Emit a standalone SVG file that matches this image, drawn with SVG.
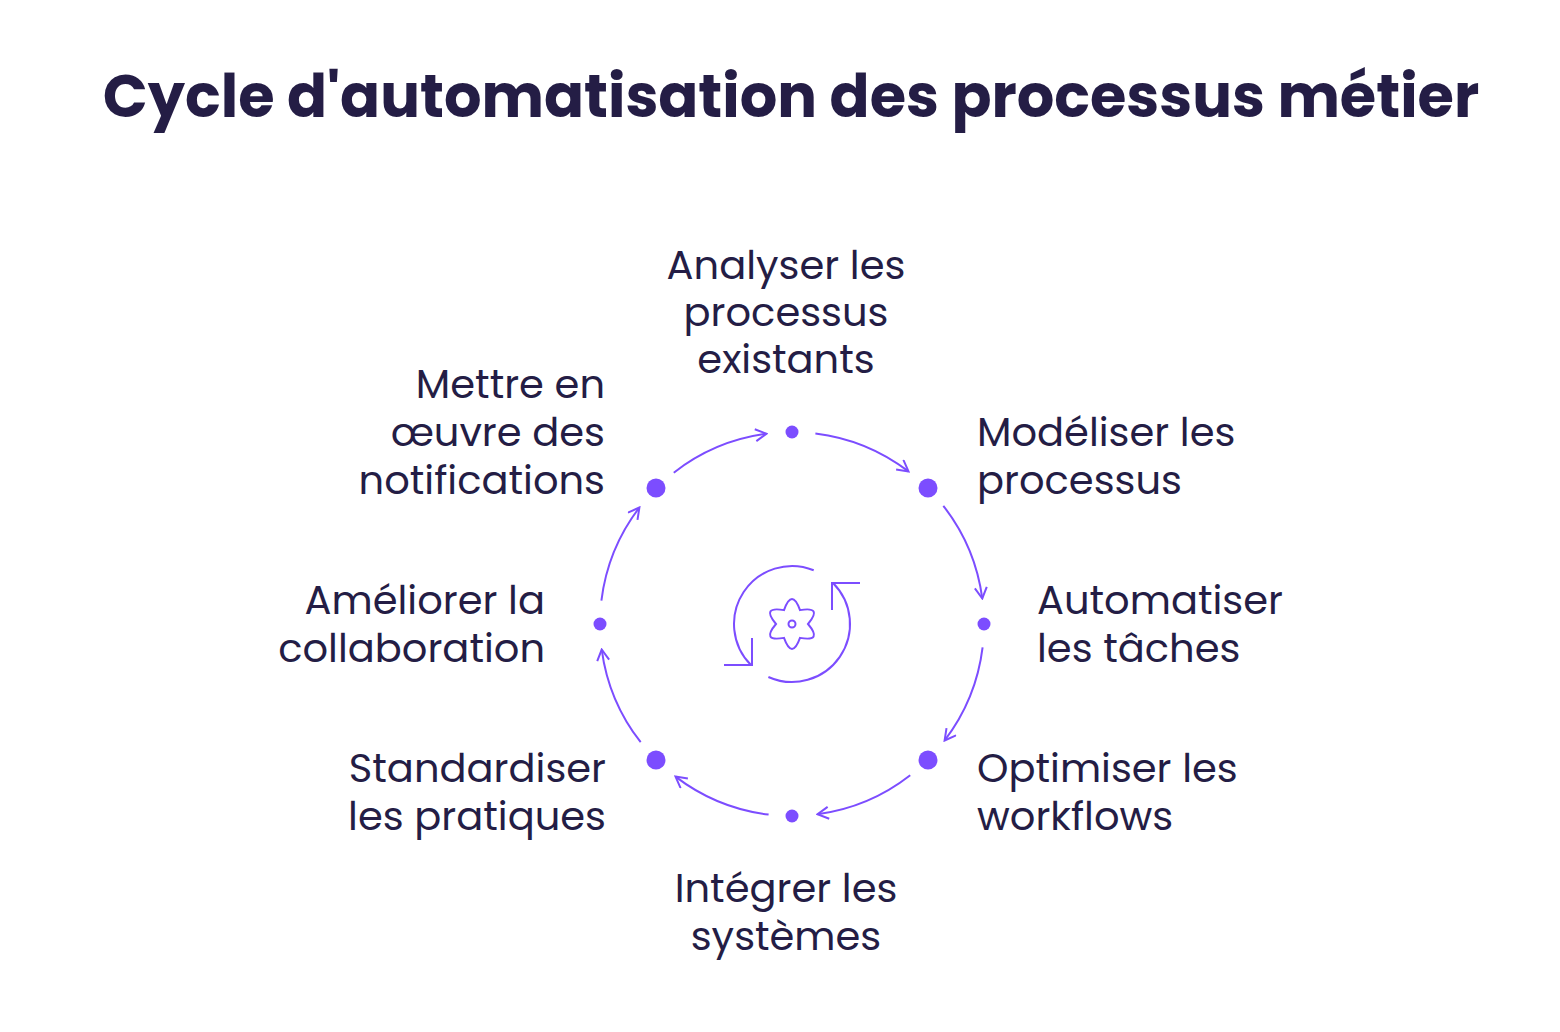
<svg xmlns="http://www.w3.org/2000/svg" width="1560" height="1032" viewBox="0 0 1560 1032">
<style>
.t{font-family:Poppins,"Open Sans","Noto Sans",sans-serif;fill:#241d45;font-size:40px}
.ttl{font-family:Poppins,"Open Sans","Noto Sans",sans-serif;fill:#241d45;font-size:59px;font-weight:700}
.c{fill:none;stroke:#7c4dff;stroke-width:2}
.d{fill:#7c4dff}
</style>
<defs>
<marker id="ah" viewBox="0 0 14 14" refX="12" refY="7" markerWidth="14" markerHeight="14" markerUnits="userSpaceOnUse" orient="auto">
<path d="M1,1 L12,7 L1,13" fill="none" stroke="#7c4dff" stroke-width="2"/>
</marker>
<path id="arc" d="M815.4,433.4 A192,192 0 0 1 908.5,471.4" class="c" marker-end="url(#ah)"/>
</defs>
<rect width="1560" height="1032" fill="#fff"/>
<text class="ttl" x="791" y="117" text-anchor="middle">Cycle d'automatisation des processus métier</text>
<g id="connectors">
<use href="#arc"/>
<use href="#arc" transform="rotate(45 792 624)"/>
<use href="#arc" transform="rotate(90 792 624)"/>
<use href="#arc" transform="rotate(135 792 624)"/>
<use href="#arc" transform="rotate(180 792 624)"/>
<use href="#arc" transform="rotate(225 792 624)"/>
<use href="#arc" transform="rotate(270 792 624)"/>
<use href="#arc" transform="rotate(315 792 624)"/>
</g>
<g id="center">
<path class="c" d="M833,583 A58,58 0 0 1 768.4,677"/>
<path class="c" d="M751,665 A58,58 0 0 1 813.7,570.2"/>
<path class="c" d="M724,665 H752 V638 M832,610 V583 H860"/>
<path class="c" transform="translate(792 624)" d="M8,-13.86 Q31.2,-18 16,0 Q31.2,18 8,13.86 Q0,36 -8,13.86 Q-31.2,18 -16,0 Q-31.2,-18 -8,-13.86 Q0,-36 8,-13.86 Z"/>
<circle class="c" cx="792" cy="624" r="3.5"/>
</g>
<g id="n1"><circle class="d" cx="792" cy="432" r="6.5"/><text class="t" text-anchor="middle"><tspan x="786" y="279">Analyser les</tspan><tspan x="786" y="326">processus</tspan><tspan x="786" y="373">existants</tspan></text></g>
<g id="n2"><circle class="d" cx="928" cy="488" r="9.5"/><text class="t"><tspan x="977" y="446">Modéliser les</tspan><tspan x="977" y="494">processus</tspan></text></g>
<g id="n3"><circle class="d" cx="984" cy="624" r="6.5"/><text class="t"><tspan x="1037" y="614">Automatiser</tspan><tspan x="1037" y="662">les tâches</tspan></text></g>
<g id="n4"><circle class="d" cx="928" cy="760" r="9.5"/><text class="t"><tspan x="977" y="782">Optimiser les</tspan><tspan x="977" y="830">workflows</tspan></text></g>
<g id="n5"><circle class="d" cx="792" cy="816" r="6.5"/><text class="t" text-anchor="middle"><tspan x="786" y="902">Intégrer les</tspan><tspan x="786" y="950">systèmes</tspan></text></g>
<g id="n6"><circle class="d" cx="656" cy="760" r="9.5"/><text class="t" text-anchor="end"><tspan x="606" y="782">Standardiser</tspan><tspan x="606" y="830">les pratiques</tspan></text></g>
<g id="n7"><circle class="d" cx="600" cy="624" r="6.5"/><text class="t" text-anchor="end"><tspan x="545" y="614">Améliorer la</tspan><tspan x="545" y="662">collaboration</tspan></text></g>
<g id="n8"><circle class="d" cx="656" cy="488" r="9.5"/><text class="t" text-anchor="end"><tspan x="605" y="398">Mettre en</tspan><tspan x="605" y="446">œuvre des</tspan><tspan x="605" y="494">notifications</tspan></text></g>
</svg>
